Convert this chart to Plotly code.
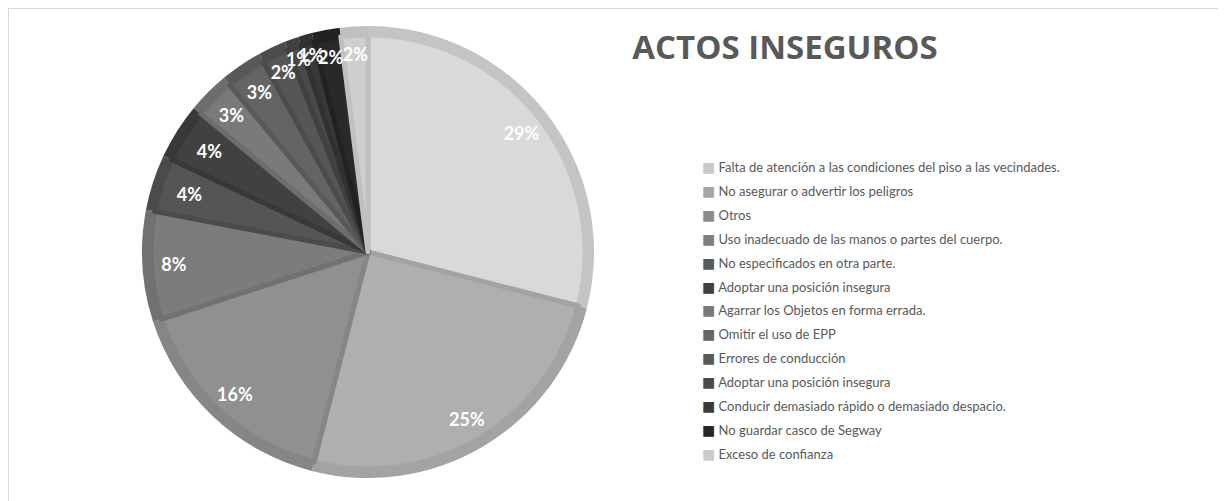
import plotly.graph_objects as go

categories = [
    "Falta de atención a las condiciones del piso a las vecindades.",
    "No asegurar o advertir los peligros",
    "Otros",
    "Uso inadecuado de las manos o partes del cuerpo.",
    "No especificados en otra parte.",
    "Adoptar una posición insegura",
    "Agarrar los Objetos en forma errada.",
    "Omitir el uso de EPP",
    "Errores de conducción",
    "Adoptar una posición insegura ",
    "Conducir demasiado rápido o demasiado despacio.",
    "No guardar casco de Segway",
    "Exceso de confianza",
]
values = [29, 25, 16, 8, 4, 4, 3, 3, 2, 1, 1, 2, 2]
colors = ["#d9d9d9", "#afafaf", "#909090", "#7c7c7c", "#555555", "#414141",
          "#7a7a7a", "#646464", "#565656", "#494949", "#393939", "#292929", "#cfcfcf"]
edge_colors = ["#c4c4c4", "#a3a3a3", "#868686", "#717171", "#4b4b4b", "#383838",
               "#6d6d6d", "#595959", "#4c4c4c", "#404040", "#313131", "#222222", "#c0c0c0"]
legend_colors = ["#c9c9c9", "#a6a6a6", "#8c8c8c", "#7f7f7f", "#595959", "#404040",
                 "#7a7a7a", "#666666", "#595959", "#4a4a4a", "#3a3a3a", "#262626", "#cccccc"]

# page has an 8px body margin, so figure coordinates are page coordinates minus 8
W, H = 1218, 493
cx, cy, r = 360, 244, 226
band = 9


def dom(rad):
    return dict(x=[(cx - rad) / W, (cx + rad) / W], y=[(H - cy - rad) / H, (H - cy + rad) / H])


common = dict(labels=categories, values=values, sort=False, direction="clockwise", rotation=0)

fig = go.Figure()
# outer (darker edge) layer
fig.add_trace(go.Pie(
    **common,
    marker=dict(colors=edge_colors, line=dict(width=0)),
    textinfo="none", domain=dom(r), showlegend=False, hoverinfo="skip",
))
# inner fill layer
fig.add_trace(go.Pie(
    **common,
    marker=dict(colors=colors, line=dict(color=edge_colors, width=5)),
    textinfo="none", domain=dom(r - band), showlegend=False, hoverinfo="label+percent",
))
# label layers (large slices / small slices)
for big, hole, rad in ((True, 0.72, r), (False, 0.5, r * 0.935)):
    fig.add_trace(go.Pie(
        **common,
        hole=hole,
        marker=dict(colors=["rgba(0,0,0,0)"] * len(values), line=dict(width=0)),
        texttemplate=["%{percent:.0%}" if ((v >= 5) == big) else "" for v in values],
        textposition="inside",
        insidetextorientation="horizontal",
        textfont=dict(family="Lato, Open Sans, sans-serif", size=18, color="white", weight="bold"),
        domain=dom(rad), showlegend=False, hoverinfo="skip",
    ))

# legend entries
for cat, c in zip(categories, legend_colors):
    fig.add_trace(go.Scatter(
        x=[None], y=[None], mode="markers",
        marker=dict(color="rgba(0,0,0,0)", size=1),
        name=f'<span style="color:{c};font-family:DejaVu Sans;font-size:14px">■</span> {cat}',
        legendgroup=cat, showlegend=True,
    ))

fig.update_layout(
    width=W, height=H,
    margin=dict(l=0, r=0, t=0, b=0),
    paper_bgcolor="white",
    plot_bgcolor="white",
    xaxis=dict(visible=False), yaxis=dict(visible=False),
    uniformtext=dict(minsize=18, mode="show"),
    title=dict(text="<b>ACTOS INSEGUROS</b>", x=777 / W, xanchor="center", y=1 - 39 / H, yanchor="middle",
               font=dict(family="Open Sans, Lato, sans-serif", size=33, color="#595959")),
    legend=dict(x=654 / W, y=1 - 144 / H, xanchor="left", yanchor="top",
                font=dict(family="Lato, Open Sans, sans-serif", size=13, color="#595959"),
                tracegroupgap=4, itemwidth=30, traceorder="grouped",
                bgcolor="rgba(0,0,0,0)"),
    shapes=[
        dict(type="line", xref="paper", yref="paper", x0=0, x1=1, y0=1, y1=1,
             line=dict(color="#d9d9d9", width=2)),
        dict(type="line", xref="paper", yref="paper", x0=0, x1=0, y0=0, y1=1,
             line=dict(color="#d9d9d9", width=2)),
    ],
)

fig.write_html("out.html")
